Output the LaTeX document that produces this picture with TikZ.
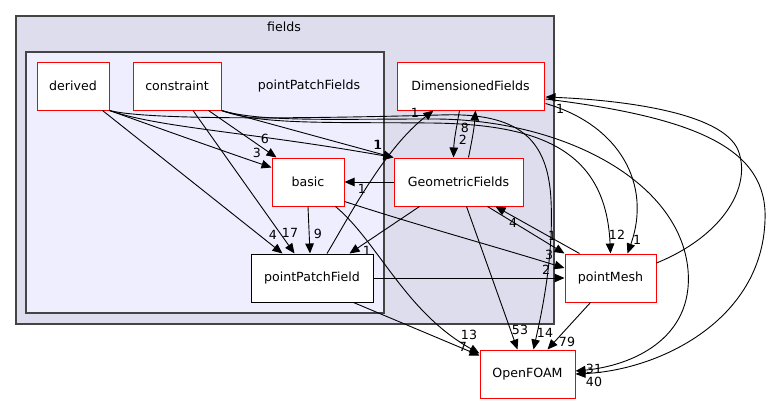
\documentclass[tikz,border=0pt]{standalone}
\usepackage{fontspec}
\setmainfont{DejaVu Sans}
\usetikzlibrary{arrows.meta,calc}
\newcommand{\dgfont}{\fontsize{12.6}{15}\selectfont}
\definecolor{outerfill}{HTML}{DDDDEE}
\definecolor{innerfill}{HTML}{EEEEFF}
\definecolor{clborder}{HTML}{444444}
\begin{document}
\begin{tikzpicture}[x=1pt,y=-1pt,
  dirbox/.style={draw=red, fill=white, line width=1pt, minimum height=48pt, inner sep=0pt, font=\dgfont},
  leafbox/.style={draw=black, fill=white, line width=1pt, minimum height=48pt, inner sep=0pt, font=\dgfont},
  cluster/.style={draw=clborder, line width=1.3pt},
  edge/.style={draw=black, line width=0.9pt, -{Triangle[length=10pt,width=8.5pt]}},
  lbl/.style={font=\dgfont, inner sep=0pt},
  cltext/.style={font=\dgfont, inner sep=0pt}]
\useasboundingbox (0,0) rectangle (770,404);
% clusters
\draw[cluster, fill=outerfill] (16,16) rectangle (554,324);
\node[cltext] (fieldslbl) at (284,27) {fields};
\draw[cluster, fill=innerfill] (26,52) rectangle (384,313);
\node[cltext] (ppflbl) at (309,86) {pointPatchFields};
% nodes
\node[dirbox, minimum width=72pt] (derived) at (73,86) {derived};
\node[dirbox, minimum width=88pt] (constraint) at (177,86) {constraint};
\node[dirbox, minimum width=147pt] (DimensionedFields) at (470.5,86) {DimensionedFields};
\node[dirbox, minimum width=72pt] (basic) at (308,182) {basic};
\node[dirbox, minimum width=129pt] (GeometricFields) at (458.5,182) {GeometricFields};
\node[leafbox, minimum width=122pt] (pointPatchField) at (312,278) {pointPatchField};
\node[dirbox, minimum width=91pt] (pointMesh) at (610.5,278) {pointMesh};
\node[dirbox, minimum width=95pt] (OpenFOAM) at (527.5,374) {OpenFOAM};
% edges from derived
\draw[edge] (derived.south east) .. controls (150,125) and (220,150) .. ($(basic.north west)+(0,10)$);
\draw[edge] (derived.south east) .. controls (160,128) and (250,132) .. (GeometricFields.north west);
\draw[edge] ($(derived.south east)+(-7,0)$) -- ($(pointPatchField.north west)+(32,0)$);
\draw[edge] (derived.south east) .. controls (150,121) and (330,118) .. (440,115)
  .. controls (520,112) and (548,140) .. (551,200)
  .. controls (554,260) and (540,320) .. ($(OpenFOAM.north)+(6,0)$);
% edges from constraint
\draw[edge] ($(constraint.south east)+(-13,0)$) -- ($(basic.north west)+(5,0)$);
\draw[edge] (constraint.south east) -- (GeometricFields.north west);
\draw[edge] ($(constraint.south)+(16,0)$) -- ($(pointPatchField.north west)+(44,0)$);
\draw[edge] (constraint.south east) .. controls (260,125) and (330,122) .. (430,123)
  .. controls (540,124) and (606,150) .. (pointMesh.north);
\draw[edge] (constraint.south east) .. controls (260,122) and (330,119) .. (430,119)
  .. controls (560,118) and (680,180) .. (688,270)
  .. controls (694,340) and (630,366) .. ($(OpenFOAM.east)+(0,-3)$);
% DimensionedFields / GeometricFields
\draw[edge] ($(DimensionedFields.south)+(-11,0)$) .. controls (456,130) and (454,140) .. ($(GeometricFields.north)+(-5,0)$);
\draw[edge] ($(GeometricFields.north)+(10,0)$) .. controls (472,140) and (474,130) .. ($(DimensionedFields.south)+(5,0)$);
\draw[edge] ($(DimensionedFields.south east)+(1,-7)$) .. controls (620,125) and (652,185) .. ($(pointMesh.north)+(17,0)$);
\draw[edge] ($(DimensionedFields.east)+(1,13)$) .. controls (700,118) and (768,150) .. (765,220)
  .. controls (762,320) and (660,370) .. ($(OpenFOAM.east)+(0,0)$);
\draw[edge] ($(pointMesh.east)+(0,-15)$) .. controls (725,235) and (752,185) .. (738,150)
  .. controls (722,112) and (620,100) .. ($(DimensionedFields.east)+(1,11)$);
\draw[edge] ($(pointPatchField.north)+(15,0)$) .. controls (350,215) and (385,148) .. ($(DimensionedFields.south west)+(37,0)$);
% from GeometricFields
\draw[edge] (GeometricFields.west) -- (basic.east);
\draw[edge] ($(GeometricFields.south west)+(26,0)$) -- ($(pointPatchField.north east)+(-24,0)$);
\draw[edge] ($(GeometricFields.south west)+(73,0)$) -- ($(OpenFOAM.north)+(-10,0)$);
\draw[edge] ($(GeometricFields.south east)+(-36,0)$) -- (pointMesh.north west);
\draw[edge] ($(pointMesh.north west)+(15,0)$) -- ($(GeometricFields.south east)+(-28,0)$);
% from basic
\draw[edge] (basic.south) -- ($(pointPatchField.north)+(-2,0)$);
\draw[edge] ($(basic.south east)+(0,-5)$) .. controls (420,226) and (490,245) .. ($(pointMesh.west)+(0,-10)$);
\draw[edge] ($(basic.south east)+(-9,0)$) .. controls (378,242) and (405,312) .. ($(OpenFOAM.north west)+(0,4)$);
% from pointPatchField
\draw[edge] (pointPatchField.east) -- (pointMesh.west);
\draw[edge] ($(pointPatchField.south east)+(-20,0)$) -- ($(OpenFOAM.north west)+(0,6)$);
% from pointMesh
\draw[edge] ($(pointMesh.south)+(-20,0)$) -- ($(OpenFOAM.north)+(20,0)$);
% labels
\node[lbl] (l1) at (257,153) {3};
\node[lbl] (l2) at (377.5,145) {1};
\node[lbl] (l3) at (273,235) {4};
\node[lbl] (l4) at (545,333) {14};
\node[lbl] (l5) at (265,139) {6};
\node[lbl] (l6) at (378.5,145) {1};
\node[lbl] (l7) at (290,233) {17};
\node[lbl] (l8) at (617,235) {12};
\node[lbl] (l9) at (594,369) {31};
\node[lbl] (l10) at (463,140) {2};
\node[lbl] (l11) at (465,128) {8};
\node[lbl] (l12) at (637,240) {1};
\node[lbl] (l13) at (594,382) {40};
\node[lbl] (l14) at (560,109) {1};
\node[lbl] (l15) at (415,113) {1};
\node[lbl] (l16) at (362,189) {1};
\node[lbl] (l17) at (367,251) {1};
\node[lbl] (l18) at (520,330) {53};
\node[lbl] (l19) at (552,236) {1};
\node[lbl] (l20) at (513,223) {4};
\node[lbl] (l21) at (318,234) {9};
\node[lbl] (l22) at (549,255) {3};
\node[lbl] (l23) at (469,335) {13};
\node[lbl] (l24) at (546,270) {2};
\node[lbl] (l25) at (463,347) {7};
\node[lbl] (l26) at (567,342) {79};
\end{tikzpicture}
\end{document}
